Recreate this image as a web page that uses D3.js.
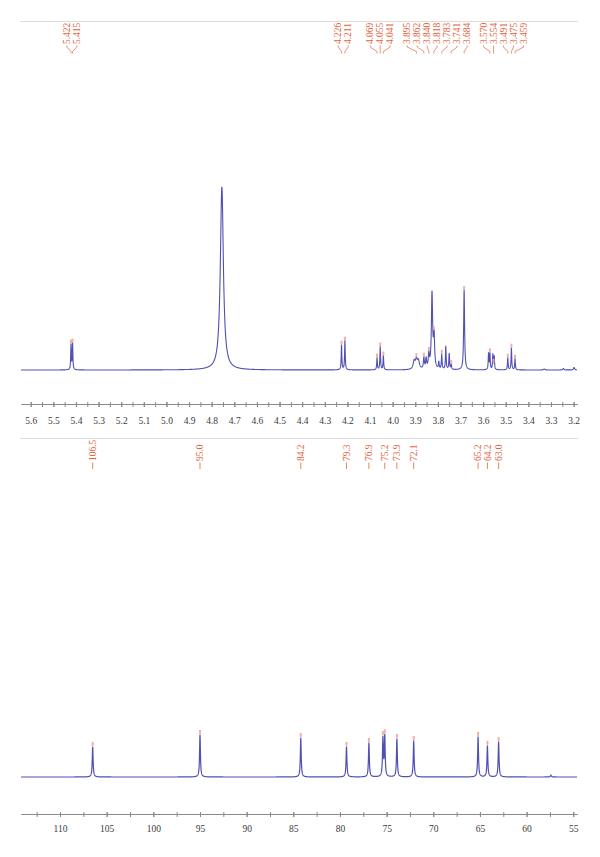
<!DOCTYPE html>
<html><head><meta charset="utf-8">
<script src="https://cdn.jsdelivr.net/npm/d3@7"></script>
<style>body{margin:0;background:#fff}svg{display:block}</style>
</head><body>
<svg id="c" width="600" height="857"></svg>
<script>
// ---------- 1H NMR data ----------
const hPeakPpm    = [5.422, 5.415, 4.755, 4.226, 4.211, 4.069, 4.055, 4.041, 3.905, 3.895, 3.886, 3.862, 3.852, 3.840, 3.826, 3.817, 3.796, 3.783, 3.765, 3.750, 3.741, 3.684, 3.576, 3.570, 3.557, 3.551, 3.491, 3.475, 3.459, 3.330, 3.245, 3.198];
const hPeakHeight = [25, 26, 183, 25, 29, 12, 23, 14, 8, 9, 8, 11, 10, 14, 75, 32, 7, 15, 23, 16, 5, 80, 16, 16, 15, 13, 12, 22, 11, 1, 1.5, 2.5];
const hPeakWidth  = [0.0016, 0.0016, 0.008, 0.0017, 0.0017, 0.0017, 0.0017, 0.0017, 0.005, 0.005, 0.005, 0.0025, 0.0025, 0.003, 0.0032, 0.003, 0.0018, 0.0018, 0.0018, 0.0018, 0.0018, 0.0024, 0.0017, 0.0017, 0.0017, 0.0017, 0.0017, 0.0017, 0.0017, 0.003, 0.003, 0.003];
const hLabels     = ["5.422", "5.415", "4.226", "4.211", "4.069", "4.055", "4.041", "3.895", "3.862", "3.840", "3.818", "3.783", "3.741", "3.684", "3.570", "3.554", "3.491", "3.475", "3.459"];
const hTicks      = [5.6, 5.5, 5.4, 5.3, 5.2, 5.1, 5.0, 4.9, 4.8, 4.7, 4.6, 4.5, 4.4, 4.3, 4.2, 4.1, 4.0, 3.9, 3.8, 3.7, 3.6, 3.5, 3.4, 3.3, 3.2];

// ---------- 13C NMR data ----------
const cPeakPpm    = [106.5, 95.0, 84.2, 79.3, 76.9, 75.4, 75.2, 73.9, 72.1, 65.2, 64.2, 63.0, 57.4];
const cPeakHeight = [30, 42, 39, 30, 34, 38, 40, 38, 36, 40, 31, 35, 2];
const cLabels     = ["106.5", "95.0", "84.2", "79.3", "76.9", "75.2", "73.9", "72.1", "65.2", "64.2", "63.0"];
const cTicks      = [110, 105, 100, 95, 90, 85, 80, 75, 70, 65, 60, 55];

const svg = d3.select("#c");
const labelColor = "#e1633d";
const lineColor = "#5050b4";
const markColor = "#f4a698";
const font = "'Liberation Serif', 'DejaVu Serif', serif";

function lor(ppm, pos, h, g) { const d = ppm - pos; return h * g * g / (d * d + g * g); }

function spread(xs, gap) {
  let groups = xs.map(x => ({ sum: x, n: 1 }));
  const start = g => g.sum / g.n - (g.n - 1) * gap / 2;
  let merged = true;
  while (merged) {
    merged = false;
    for (let i = 0; i < groups.length - 1; i++) {
      const a = groups[i], b = groups[i + 1];
      if (start(a) + a.n * gap > start(b)) {
        groups.splice(i, 2, { sum: a.sum + b.sum, n: a.n + b.n });
        merged = true; break;
      }
    }
  }
  const out = [];
  groups.forEach(g => { const s = start(g); for (let k = 0; k < g.n; k++) out.push(s + k * gap); });
  return out;
}

function drawAxis(scale, y, ticks, minor, fmt, labelY) {
  const g = svg.append("g").attr("transform", `translate(0,${y})`);
  g.call(d3.axisBottom(scale).tickValues(minor).tickSizeInner(3).tickSizeOuter(0).tickFormat(""));
  const g2 = svg.append("g").attr("transform", `translate(0,${y})`);
  g2.call(d3.axisBottom(scale).tickValues(ticks).tickSizeInner(3).tickSizeOuter(0).tickFormat(fmt));
  [g, g2].forEach(s => {
    s.select(".domain").attr("stroke", "#8a8a8a").attr("stroke-width", 1);
    s.selectAll(".tick line").attr("stroke", "#8a8a8a").attr("y1", -2);
  });
  g2.selectAll(".tick text").attr("y", labelY).attr("dy", 0)
    .attr("font-family", font).attr("font-size", 9.5).attr("fill", "#3a3a3a");
}

// ================= TOP: 1H =================
const xH = d3.scaleLinear().domain([5.643, 3.185]).range([21, 577]);
const yH = d3.scaleLinear().domain([0, 183]).range([370, 187]);
const hVal = p => { let v = 0; for (let i = 0; i < hPeakPpm.length; i++) v += lor(p, hPeakPpm[i], hPeakHeight[i], hPeakWidth[i]); return v; };
const hSpec = d3.range(0, 6145).map(k => { const p = 5.643 - k * 0.0004; return [p, hVal(p)]; });

svg.append("line").attr("x1", 20).attr("x2", 578).attr("y1", 21.5).attr("y2", 21.5).attr("stroke", "#dcdcdc");

svg.append("path").datum(hSpec)
  .attr("d", d3.line().x(d => xH(d[0])).y(d => yH(d[1])))
  .attr("fill", "none").attr("stroke", lineColor).attr("stroke-width", 1.1).attr("stroke-linejoin", "round");

hLabels.forEach(l => {
  const p = +l;
  svg.append("rect").attr("x", xH(p) - 1).attr("y", yH(hVal(p)) - 4).attr("width", 2).attr("height", 4)
    .attr("fill", markColor).attr("opacity", 0.9);
});

const hPx = hLabels.map(l => xH(+l));
const hLx = spread(hPx, 10);
hLabels.forEach((l, i) => {
  svg.append("path").attr("d", `M${hLx[i]},45.5 L${hLx[i]},47 L${hPx[i]},51.5 L${hPx[i]},53.5`)
    .attr("fill", "none").attr("stroke", labelColor).attr("stroke-width", 0.7);
  svg.append("text").attr("transform", `translate(${hLx[i]},44) rotate(-90)`)
    .attr("dy", "0.33em").attr("font-family", font).attr("font-size", 9.5).attr("fill", labelColor).text(l);
});

drawAxis(xH, 404, hTicks, d3.range(0, 49).map(k => +(5.6 - k * 0.05).toFixed(2)).filter(v => v >= 3.2), d3.format(".1f"), 20);

// ================= BOTTOM: 13C =================
const xC = d3.scaleLinear().domain([114.18, 54.6]).range([21, 577]);
const yC = d3.scaleLinear().domain([0, 42]).range([777, 735]);
const cW = 0.055;
const cVal = p => { let v = 0; for (let i = 0; i < cPeakPpm.length; i++) v += lor(p, cPeakPpm[i], cPeakHeight[i], cW); return v; };
const cSpec = d3.range(0, 5959).map(k => { const p = 114.18 - k * 0.01; return [p, cVal(p)]; });

svg.append("line").attr("x1", 20).attr("x2", 578).attr("y1", 438.5).attr("y2", 438.5).attr("stroke", "#dcdcdc");

svg.append("path").datum(cSpec)
  .attr("d", d3.line().x(d => xC(d[0])).y(d => yC(d[1])))
  .attr("fill", "none").attr("stroke", lineColor).attr("stroke-width", 1.2).attr("stroke-linejoin", "round");

cPeakPpm.slice(0, 12).forEach(p => {
  svg.append("rect").attr("x", xC(p) - 1).attr("y", yC(cVal(p)) - 5).attr("width", 2).attr("height", 4)
    .attr("fill", markColor).attr("opacity", 0.9);
});

cLabels.forEach(l => {
  const x = xC(+l);
  svg.append("line").attr("x1", x).attr("x2", x).attr("y1", 462.5).attr("y2", 469)
    .attr("stroke", labelColor).attr("stroke-width", 0.8);
  svg.append("text").attr("transform", `translate(${x},461) rotate(-90)`)
    .attr("dy", "0.33em").attr("font-family", font).attr("font-size", 9.5).attr("fill", labelColor).text(l);
});

drawAxis(xC, 814, cTicks, d3.range(0, 24).map(k => 112.5 - k * 2.5).filter(v => v >= 54.6), d3.format("d"), 18);
</script>
</body></html>
